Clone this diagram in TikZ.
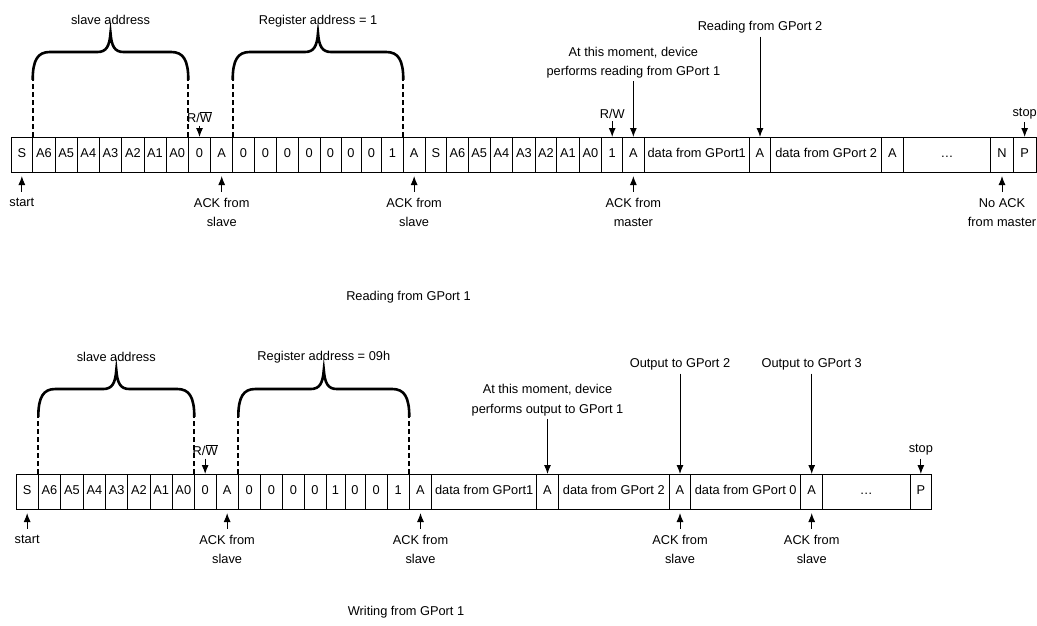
\documentclass[tikz,border=0pt]{standalone}
\usepackage{fontspec}
\setmainfont{Liberation Sans}
\usetikzlibrary{arrows.meta}

% curly bracket over a group of bits: left x, right x, y of the two ends
\newcommand{\curlybrace}[3]{%
  \draw[curly] (#1,#3) .. controls (#1,#3-20) and (#1+5,#3-28) .. (#1+17,#3-28)
    -- ({(#1+#2)/2-13},#3-28) .. controls ({(#1+#2)/2-4},#3-28) and ({(#1+#2)/2-1},#3-34) .. ({(#1+#2)/2},#3-47)
    .. controls ({(#1+#2)/2+1},#3-34) and ({(#1+#2)/2+4},#3-28) .. ({(#1+#2)/2+13},#3-28)
    -- (#2-17,#3-28) .. controls (#2-5,#3-28) and (#2,#3-20) .. (#2,#3);
}

\begin{document}
\begin{tikzpicture}[
            x = 1pt, y = -1pt,
            font = \fontsize{12.8}{19.5}\selectfont,
            > = {Latex[length=9pt,width=7pt]}, % arrow head style
            cell/.style = {draw, line width=1pt, minimum height=35pt, inner sep=0pt, outer sep=0pt,
                           text height=9.2pt, text depth=2.7pt},
            lbl/.style = {inner sep=2pt, align=center},
            dnarrow/.style = {->, line width=1pt, shorten < = 1pt},
            uparrow/.style = {->, line width=1pt, shorten > = 4pt, shorten < = 4pt},
            curly/.style = {line width=2.6pt},
            guide/.style = {line width=1.8pt, dash pattern=on 5pt off 3pt}
        ]
\useasboundingbox (0,0) rectangle (1037,625);

% reading frame
\foreach \nm/\xa/\xb/\txt in {t0/11/32.7/S, t1/32.7/55/A6, t2/55/77.3/A5, t3/77.3/99.3/A4,
    t4/99.3/121.7/A3, t5/121.7/144/A2, t6/144/166/A1, t7/166/188.3/A0, t8/188.3/210.7/0,
    t9/210.7/232.7/A, t10/232.7/254.3/0, t11/254.3/276.7/0, t12/276.7/298.3/0, t13/298.3/320/0,
    t14/320/341/0, t15/341/361/0, t16/361/381.7/0, t17/381.7/403.3/1, t18/403.3/425/A,
    t19/425/446.7/S, t20/446.7/468.3/A6, t21/468.3/490/A5, t22/490/512.7/A4, t23/512.7/535/A3,
    t24/535/556.7/A2, t25/556.7/579.3/A1, t26/579.3/601.7/A0, t27/601.7/622.7/1, t28/622.7/644/A,
    t29/644/749.3/data from GPort1, t30/749.3/770.7/A, t31/770.7/881.7/data from GPort 2,
    t32/881.7/903.3/A, t33/903.3/990.7/\ldots, t34/990.7/1013.3/N, t35/1013.3/1036/P}
  \node[cell, minimum width={(\xb-\xa)*1pt}] (\nm) at ({(\xa+\xb)/2},154.5) {\txt};

% writing frame
\foreach \nm/\xa/\xb/\txt in {b0/16/38.3/S, b1/38.3/60.7/A6, b2/60.7/83.3/A5, b3/83.3/105.7/A4,
    b4/105.7/127.7/A3, b5/127.7/150/A2, b6/150/172.3/A1, b7/172.3/194.3/A0, b8/194.3/216/0,
    b9/216/238.3/A, b10/238.3/260/0, b11/260/282.7/0, b12/282.7/304/0, b13/304/326/0,
    b14/326/345/1, b15/345/365/0, b16/365/387.3/0, b17/387.3/409.3/1, b18/409.3/431.7/A,
    b19/431.7/536.7/data from GPort1, b20/536.7/558.3/A, b21/558.3/669.3/data from GPort 2,
    b22/669.3/690.7/A, b23/690.7/800.7/data from GPort 0, b24/800.7/822.7/A,
    b25/822.7/910/\ldots, b26/910/931.7/P}
  \node[cell, minimum width={(\xb-\xa)*1pt}] (\nm) at ({(\xa+\xb)/2},491.5) {\txt};

% brackets
\curlybrace{32.7}{188.3}{80}
\curlybrace{232.7}{403.3}{80}
\curlybrace{38.3}{194.3}{417}
\curlybrace{238.3}{409.3}{417}
\foreach \c in {t1,t8,t10,t18,b1,b8,b10,b18}
  \draw[guide] (\c.north west) -- +(0,-57);

\node (slave1) at (110.5,20) {slave address};
\node (reg1) at (318,21) {Register address = 1};
\node (slave2) at (116.3,356.7) {slave address};
\node (reg2) at (323.8,357.5) {Register address = 09h};

% labels, reading
\node[lbl] (rw1) at (t8 |- 0,117) {R/$\overline{\mbox{W}}$};
\node[lbl] (rw2) at (t27 |- 0,113.5) {R/W};
\node[lbl] (moment1) at (t28 |- 0,62.5) {At this moment, device\\performs reading from GPort 1};
\node[lbl] (gport2) at (t30 |- 0,27.5) {Reading from GPort 2};
\node[lbl] (stop1) at (t35 |- 0,113.5) {stop};
\node[lbl] (start1) at (t0 |- 0,202) {start};
\node[lbl] (ackA1) at (t9 |- 0,212.5) {ACK from\\slave};
\node[lbl] (ackA2) at (t18 |- 0,212.5) {ACK from\\slave};
\node[lbl] (ackM1) at (t28 |- 0,212.5) {ACK from\\master};
\node[lbl] (nack1) at (t34 |- 0,212.5) {No ACK\\from master};
\node (title1) at (408.5,297) {Reading from GPort 1};

% labels, writing
\node[lbl] (rw3) at (b8 |- 0,450) {R/$\overline{\mbox{W}}$};
\node[lbl] (moment2) at (b20 |- 0,400) {At this moment, device\\performs output to GPort 1};
\node[lbl] (out2) at (b22 |- 0,364.7) {Output to GPort 2};
\node[lbl] (out3) at (b24 |- 0,364.7) {Output to GPort 3};
\node[lbl] (stop2) at (b26 |- 0,450) {stop};
\node[lbl] (start2) at (b0 |- 0,539) {start};
\node[lbl] (ackB1) at (b9 |- 0,549.5) {ACK from\\slave};
\node[lbl] (ackB2) at (b18 |- 0,549.5) {ACK from\\slave};
\node[lbl] (ackB3) at (b22 |- 0,549.5) {ACK from\\slave};
\node[lbl] (ackB4) at (b24 |- 0,549.5) {ACK from\\slave};
\node (title2) at (406,612) {Writing from GPort 1};

% arrows
\draw[dnarrow] (rw1) -- (t8);
\draw[dnarrow] (rw2) -- (t27);
\draw[dnarrow] (moment1) -- (t28);
\draw[dnarrow] (gport2) -- (t30);
\draw[dnarrow] (stop1) -- (t35);
\draw[uparrow] (start1) -- (t0);
\draw[uparrow] (ackA1) -- (t9);
\draw[uparrow] (ackA2) -- (t18);
\draw[uparrow] (ackM1) -- (t28);
\draw[uparrow] (nack1) -- (t34);

\draw[dnarrow] (rw3) -- (b8);
\draw[dnarrow] (moment2) -- (b20);
\draw[dnarrow] (out2) -- (b22);
\draw[dnarrow] (out3) -- (b24);
\draw[dnarrow] (stop2) -- (b26);
\draw[uparrow] (start2) -- (b0);
\draw[uparrow] (ackB1) -- (b9);
\draw[uparrow] (ackB2) -- (b18);
\draw[uparrow] (ackB3) -- (b22);
\draw[uparrow] (ackB4) -- (b24);
\end{tikzpicture}
\end{document}
